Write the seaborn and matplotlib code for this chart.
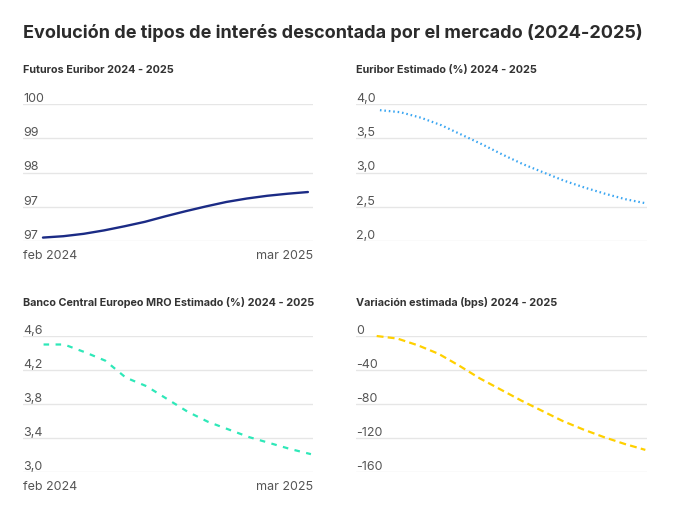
import matplotlib
matplotlib.use("Agg")
import matplotlib.pyplot as plt
import seaborn as sns
import pandas as pd

# ---------------- data ----------------
months = ["feb 2024", "mar 2024", "abr 2024", "may 2024", "jun 2024", "jul 2024",
          "ago 2024", "sep 2024", "oct 2024", "nov 2024", "dic 2024", "ene 2025",
          "feb 2025", "mar 2025"]
futuros = [96.10, 96.14, 96.21, 96.31, 96.43, 96.56, 96.72, 96.87, 97.01, 97.14,
           97.24, 97.32, 97.38, 97.43]
euribor = [3.91, 3.88, 3.80, 3.69, 3.55, 3.41, 3.26, 3.12, 3.00, 2.88, 2.78, 2.69,
           2.61, 2.55]
mro = [4.50, 4.50, 4.41, 4.31, 4.11, 4.01, 3.86, 3.71, 3.59, 3.50, 3.41, 3.34,
       3.27, 3.21]
variacion = [0, -3, -11, -21, -35, -50, -63, -76, -88, -100, -110, -119, -127, -134]

fut_ticks = [96, 97, 98, 99, 100]
fut_labels = ["97", "97", "98", "99", "100"]
eur_ticks = [2.0, 2.5, 3.0, 3.5, 4.0]
eur_labels = ["2,0", "2,5", "3,0", "3,5", "4,0"]
mro_ticks = [3.0, 3.4, 3.8, 4.2, 4.6]
mro_labels = ["3,0", "3,4", "3,8", "4,2", "4,6"]
var_ticks = [-160, -120, -80, -40, 0]
var_labels = ["-160", "-120", "-80", "-40", "0"]

titulo = "Evolución de tipos de interés descontada por el mercado (2024-2025)"
subtitulos = ["Futuros Euribor 2024 - 2025", "Euribor Estimado (%) 2024 - 2025",
              "Banco Central Europeo MRO Estimado (%) 2024 - 2025",
              "Variación estimada (bps) 2024 - 2025"]

df = pd.DataFrame({"mes": months, "idx": range(len(months)), "futuros": futuros,
                   "euribor": euribor, "mro": mro, "variacion": variacion})

# ---------------- style ----------------
sns.set_theme(style="white")
plt.rcParams["font.family"] = ["Inter", "DejaVu Sans"]

W, H = 676, 510
fig = plt.figure(figsize=(W / 100, H / 100), dpi=100)
fig.patch.set_facecolor("white")

def ax_at(x0, x1, ytop, ybot):
    return fig.add_axes([x0 / W, 1 - ybot / H, (x1 - x0) / W, (ybot - ytop) / H])

ax_tl = ax_at(23, 313, 105, 242)
ax_tr = ax_at(356, 647, 105, 242)
ax_bl = ax_at(23, 313, 337, 473)
ax_br = ax_at(356, 647, 337, 473)

panels = [
    (ax_tl, "futuros", "#1b2b85", None, fut_ticks, fut_labels, True, (-0.98, 13.25), 1.7),
    (ax_tr, "euribor", "#3aa6f2", (0, (0.7, 1.3)), eur_ticks, eur_labels, False, (-1.17, 13.05), 1.6),
    (ax_bl, "mro", "#2ee8b8", (0, (2.5, 2.9)), mro_ticks, mro_labels, True, (-1.0, 13.1), 1.6),
    (ax_br, "variacion", "#ffd000", (0, (3.1, 1.9)), var_ticks, var_labels, False, (-1.0, 13.08), 1.6),
]

tick_color = "#555555"
for ax, col, color, dash, ticks, labels, showx, xlim, lw in panels:
    sns.lineplot(data=df, x="idx", y=col, ax=ax, color=color, linewidth=lw, clip_on=False)
    line = ax.lines[0]
    if dash is not None:
        line.set_linestyle(dash)
        line.set_dash_capstyle("butt")
    line.set_solid_joinstyle("round")
    line.set_dash_joinstyle("round")
    ax.set_xlim(*xlim)
    ax.set_ylim(ticks[0], ticks[-1])
    ax.set_yticks(ticks)
    ax.set_yticklabels(labels)
    ax.yaxis.grid(True, color="#e6e6e6", linewidth=1.0)
    ax.xaxis.grid(False)
    ax.set_axisbelow(True)
    for s in ax.spines.values():
        s.set_visible(False)
    ax.tick_params(axis="y", length=0, pad=0, labelsize=9, labelcolor=tick_color)
    for lab in ax.get_yticklabels():
        lab.set_horizontalalignment("left")
        lab.set_verticalalignment("bottom")
    ax.set_xlabel("")
    ax.set_ylabel("")
    if showx:
        ax.set_xticks([xlim[0], xlim[1]])
        ax.set_xticklabels([months[0], months[-1]])
        ax.tick_params(axis="x", length=0, pad=6, labelsize=9, labelcolor=tick_color)
        xl = ax.get_xticklabels()
        xl[0].set_horizontalalignment("left")
        xl[1].set_horizontalalignment("right")
    else:
        ax.set_xticks([])

fig.text(23 / W, 1 - 33 / H, titulo, fontsize=13.0, fontweight="bold", color="#2b2b2b",
         ha="left", va="center")
sub_pos = [(23, 70), (356, 70), (23, 302), (356, 302)]
for (x, y), t in zip(sub_pos, subtitulos):
    fig.text(x / W, 1 - y / H, t, fontsize=7.8, fontweight="bold", color="#333333",
             ha="left", va="center")

fig.savefig("out.png", dpi=100, facecolor="white")
